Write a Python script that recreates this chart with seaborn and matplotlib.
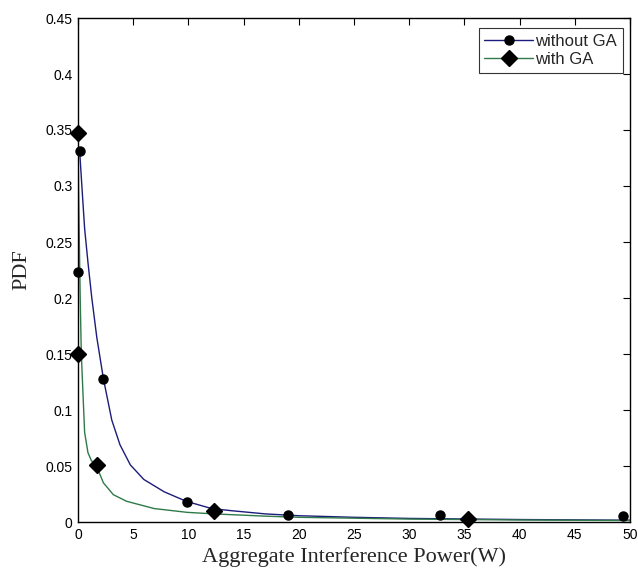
import numpy as np
import pandas as pd
import matplotlib
matplotlib.use("Agg")
import matplotlib.pyplot as plt
from matplotlib.lines import Line2D
import seaborn as sns

# --- data ---
# smooth curves (x in W, y = PDF)
blue_x = [0.15, 0.35, 0.6, 0.9, 1.25, 1.7, 2.3, 3.06, 3.8, 4.74, 5.96, 7.8, 9.8, 12.1, 13.9, 17.0, 20.0, 25.0, 30.0, 40.0, 50.0]
blue_y = [0.331, 0.30, 0.262, 0.232, 0.20, 0.165, 0.128, 0.091, 0.069, 0.051, 0.038, 0.027, 0.0185, 0.012, 0.0101, 0.0072, 0.0056, 0.0042, 0.0032, 0.0022, 0.0016]

green_x = [0.0, 0.05, 0.12, 0.2, 0.3, 0.45, 0.6, 0.9, 1.2, 1.68, 2.3, 3.2, 4.4, 6.9, 9.9, 12.4, 17.0, 20.0, 30.0, 40.0, 50.0]
green_y = [0.347, 0.30, 0.25, 0.2, 0.15, 0.115, 0.08, 0.062, 0.055, 0.0497, 0.035, 0.0244, 0.0185, 0.012, 0.0086, 0.0072, 0.0052, 0.0042, 0.0026, 0.0018, 0.0013]

# marker positions
blue_mx = [0.15, 0.0, 2.3, 9.85, 19.0, 32.8, 49.4]
blue_my = [0.331, 0.223, 0.128, 0.018, 0.006, 0.006, 0.0054]

green_mx = [0.0, 0.0, 1.68, 12.3, 35.3]
green_my = [0.347, 0.150, 0.0505, 0.0096, 0.003]

series_names = ["without GA", "with GA"]

# --- plot ---
sns.set_style("white")
plt.rcParams["font.family"] = ["Liberation Sans", "DejaVu Sans"]

fig = plt.figure(figsize=(6.38, 5.84), dpi=100)
ax = fig.add_axes([78 / 638, (584 - 522) / 584, (630 - 78) / 638, (522 - 18) / 584])

blue = "#1c1c7a"
green = "#2f7a48"

df_blue = pd.DataFrame({"x": blue_x, "y": blue_y})
df_green = pd.DataFrame({"x": green_x, "y": green_y})
sns.lineplot(data=df_blue, x="x", y="y", sort=False, estimator=None, color=blue, linewidth=1.0, ax=ax)
sns.lineplot(data=df_green, x="x", y="y", sort=False, estimator=None, color=green, linewidth=1.0, ax=ax)

ax.plot(blue_mx, blue_my, linestyle="none", marker="o", markersize=6.5,
        color="black", clip_on=False, zorder=5)
ax.plot(green_mx, green_my, linestyle="none", marker="D", markersize=8,
        color="black", clip_on=False, zorder=5)

ax.set_xlim(0, 50)
ax.set_ylim(0, 0.45)
ax.set_xticks(np.arange(0, 51, 5))
ax.set_yticks(np.arange(0, 0.451, 0.05))
ax.set_yticklabels(["0", "0.05", "0.1", "0.15", "0.2", "0.25", "0.3", "0.35", "0.4", "0.45"])
ax.tick_params(direction="in", length=5, width=0.8, top=True, right=True,
               labelsize=10, pad=4, colors="black")
for s in ax.spines.values():
    s.set_color("black")
    s.set_linewidth(1.0)

ax.set_xlabel("Aggregate Interference Power(W)", family="Liberation Serif", fontsize=16, labelpad=4)
ax.set_ylabel("PDF", family="Liberation Serif", fontsize=16, labelpad=10)

handles = [
    Line2D([], [], color=blue, marker="o", markersize=6.5, markerfacecolor="black",
           markeredgecolor="black", linewidth=1.0),
    Line2D([], [], color=green, marker="D", markersize=8, markerfacecolor="black",
           markeredgecolor="black", linewidth=1.0),
]
leg = ax.legend(handles, series_names, loc="upper right", bbox_to_anchor=(0.987, 0.98),
                fontsize=12, frameon=True, fancybox=False, edgecolor="black",
                borderaxespad=0, handlelength=2.9, handletextpad=0.15,
                labelspacing=0.2, borderpad=0.35)
leg.get_frame().set_linewidth(0.8)

fig.savefig("out.png", dpi=100)
plt.close(fig)
